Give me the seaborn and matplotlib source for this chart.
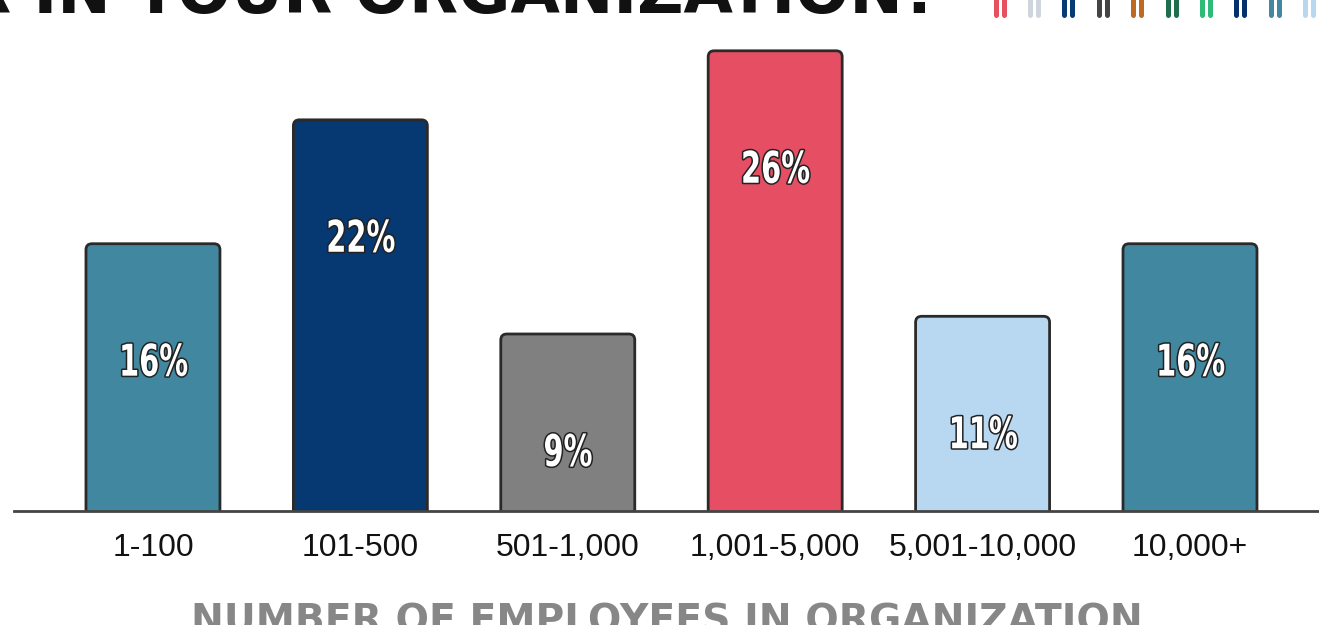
import matplotlib.pyplot as plt
import pandas as pd
import seaborn as sns
from matplotlib.lines import Line2D
from matplotlib.patches import FancyBboxPatch
from matplotlib.patheffects import AbstractPathEffect
from matplotlib.transforms import Affine2D

# data
sizes = ["1-100", "101-500", "501-1,000", "1,001-5,000", "5,001-10,000", "10,000+"]
bar_heights = [15.1, 22.1, 10.0, 26.0, 11.0, 15.1]
bar_labels = ["16%", "22%", "9%", "26%", "11%", "16%"]
bar_colors = ["#41879f", "#063871", "#808080", "#e64f63", "#b8d7f1", "#41879f"]
pencil_colors = [
    "#e8505f", "#d0d5dd", "#063b73", "#444444", "#bf6a22",
    "#1f6e4e", "#2dbb77", "#062f6e", "#4288a0", "#b8d7f0",
]


class CondensedOutline(AbstractPathEffect):
    """Squeeze glyphs sideways (about their centre) and draw them outlined."""

    def __init__(self, sx=0.66, stroke="#222222", width=2.0):
        super().__init__()
        self.sx = sx
        self.stroke = stroke
        self.width = width

    def draw_path(self, renderer, gc, tpath, affine, rgbFace=None):
        ext = tpath.get_extents()
        c = (ext.x0 + ext.x1) / 2
        squeeze = Affine2D().scale(self.sx, 1).translate((1 - self.sx) * c, 0) + affine
        gc0 = renderer.new_gc()
        gc0.copy_properties(gc)
        gc0.set_foreground(self.stroke)
        gc0.set_linewidth(self.width)
        renderer.draw_path(gc0, tpath, squeeze, rgbFace)
        gc0.restore()
        renderer.draw_path(gc, tpath, squeeze, rgbFace)


df = pd.DataFrame({"size": sizes, "pct": bar_heights})

sns.set_theme(style="white")
plt.rcParams["font.family"] = ["Liberation Sans", "DejaVu Sans"]

W, H = 1319, 625
fig = plt.figure(figsize=(W / 100, H / 100), dpi=100)
base = 511
ax = fig.add_axes([14 / W, (H - base) / H, 1 - 14 / W, base / H])

sns.barplot(
    data=df, x="size", y="pct", hue="size", palette=bar_colors,
    saturation=1, legend=False, width=0.646, ax=ax,
)

ax.set_xlim(-0.670, 5.622)
ax.set_ylim(0, base / 17.7)
x_per_px = (5.622 + 0.670) / (W - 14)
y_per_px = (base / 17.7) / base

for p, lab in zip(list(ax.patches), bar_labels):
    x, w, h = p.get_x(), p.get_width(), p.get_height()
    p.set_visible(False)
    r = 6 * x_per_px
    box = FancyBboxPatch(
        (x, -0.5), w, h + 0.5,
        boxstyle=f"round,pad=0,rounding_size={r}",
        mutation_aspect=y_per_px / x_per_px,
        facecolor=p.get_facecolor(), edgecolor="#2a2a2a", linewidth=2,
    )
    ax.add_patch(box)
    ax.annotate(
        lab, xy=(x + w / 2, h), xytext=(0, -86), textcoords="offset points",
        ha="center", va="center", fontsize=31.5, fontweight="bold",
        family="DejaVu Sans", color="white",
        path_effects=[CondensedOutline(sx=0.66, width=2.2)],
    )

sns.despine(ax=ax, left=True)
ax.spines["bottom"].set_color("#444444")
ax.spines["bottom"].set_linewidth(2)
ax.set_yticks([])
ax.set_ylabel("")
ax.tick_params(axis="x", length=0, pad=16, labelsize=23, labelcolor="#111111")
ax.set_xlabel(
    "NUMBER OF EMPLOYEES IN ORGANIZATION", fontsize=28.3, fontweight="bold",
    family="DejaVu Sans", color="#878787", labelpad=28,
)

# cropped title and pencil marks at the top
fig.text(
    940 / W, 1 - 13 / H, "R IN YOUR ORGANIZATION?", ha="right", va="baseline",
    fontsize=46, fontweight="heavy", family="DejaVu Sans", color="#111111",
)
for i, c in enumerate(pencil_colors):
    cx = 999.5 + i * 34.4
    for dx in (-4, 4):
        fig.add_artist(Line2D(
            [(cx + dx) / W] * 2, [1.02, 1 - 15 / H], transform=fig.transFigure,
            color=c, linewidth=3.6, solid_capstyle="round",
        ))

fig.savefig("out.png", dpi=100)
